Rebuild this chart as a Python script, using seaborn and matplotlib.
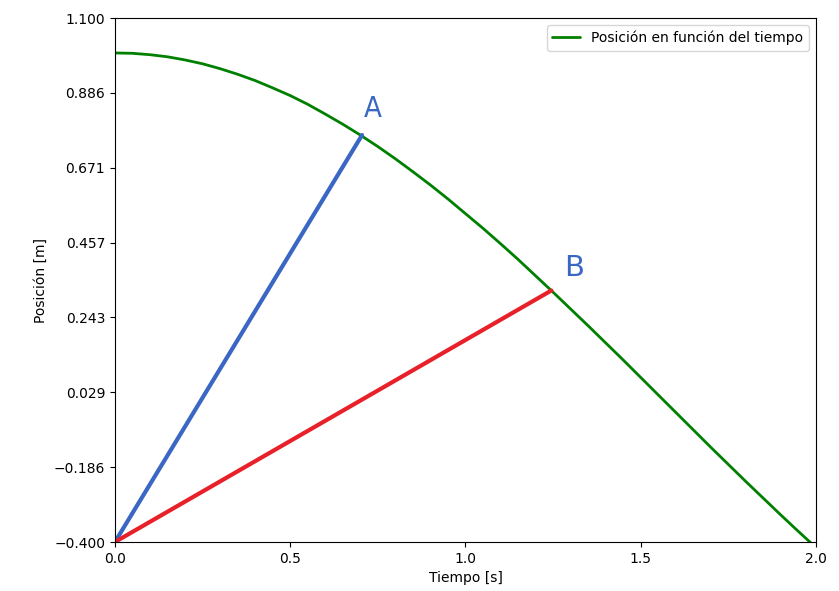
import matplotlib
matplotlib.use("Agg")
import matplotlib.pyplot as plt
import seaborn as sns
import pandas as pd

# valores
tiempo = [0.00, 0.05, 0.10, 0.15, 0.20, 0.25, 0.30, 0.35, 0.40, 0.45,
          0.50, 0.55, 0.60, 0.65, 0.70, 0.75, 0.80, 0.85, 0.90, 0.95,
          1.00, 1.05, 1.10, 1.15, 1.20, 1.25, 1.30, 1.35, 1.40, 1.45,
          1.50, 1.55, 1.60, 1.65, 1.70, 1.75, 1.80, 1.85, 1.90, 1.95, 2.00]
posicion = [1.000, 0.999, 0.995, 0.989, 0.980, 0.969, 0.955, 0.939, 0.921, 0.900,
            0.878, 0.853, 0.825, 0.796, 0.765, 0.732, 0.697, 0.660, 0.622, 0.582,
            0.540, 0.498, 0.454, 0.409, 0.362, 0.315, 0.267, 0.219, 0.170, 0.121,
            0.071, 0.021, -0.029, -0.079, -0.129, -0.178, -0.227, -0.275, -0.323, -0.370, -0.416]

linea_a_x = [0.0, 0.705]
linea_a_y = [-0.4, 0.765]
linea_b_x = [0.0, 1.245]
linea_b_y = [-0.4, 0.32]

yticks = [-0.400, -0.186, 0.029, 0.243, 0.457, 0.671, 0.886, 1.100]
xticks = [0.0, 0.5, 1.0, 1.5, 2.0]

sns.set_style("ticks", {'text.color': 'black', 'axes.labelcolor': 'black',
                        'xtick.color': 'black', 'ytick.color': 'black',
                        'axes.edgecolor': 'black'})
plt.rcParams['font.family'] = ['DejaVu Sans']

df = pd.DataFrame({'Tiempo': tiempo, 'Posicion': posicion})

fig = plt.figure(figsize=(8.39, 5.91), dpi=100)
ax = fig.add_axes([0.137, 0.0829, 0.8356, 0.8866])

sns.lineplot(x='Tiempo', y='Posicion', data=df, color='green', linewidth=2,
             label='Posición en función del tiempo', ax=ax)
sns.lineplot(x=linea_a_x, y=linea_a_y, color='#3a66c4', linewidth=3, ax=ax)
sns.lineplot(x=linea_b_x, y=linea_b_y, color='#e8202a', linewidth=3, ax=ax)

ax.text(0.736, 0.84, 'A', color='#3a66c4', fontsize=21, ha='center', va='center',
        fontstretch='condensed')
ax.text(1.31, 0.385, 'B', color='#3a66c4', fontsize=21, ha='center', va='center')

ax.set_xlim(0, 2)
ax.set_ylim(-0.4, 1.1)
ax.set_xticks(xticks)
ax.set_xticklabels([f'{v:.1f}' for v in xticks])
ax.set_yticks(yticks)
ax.set_yticklabels([f'{v:.3f}'.replace('-', '\u2212') for v in yticks])
ax.set_xlabel('Tiempo [s]')
ax.set_ylabel('Posición [m]')
ax.legend(loc='upper right')

fig.savefig('out.png', dpi=100)
